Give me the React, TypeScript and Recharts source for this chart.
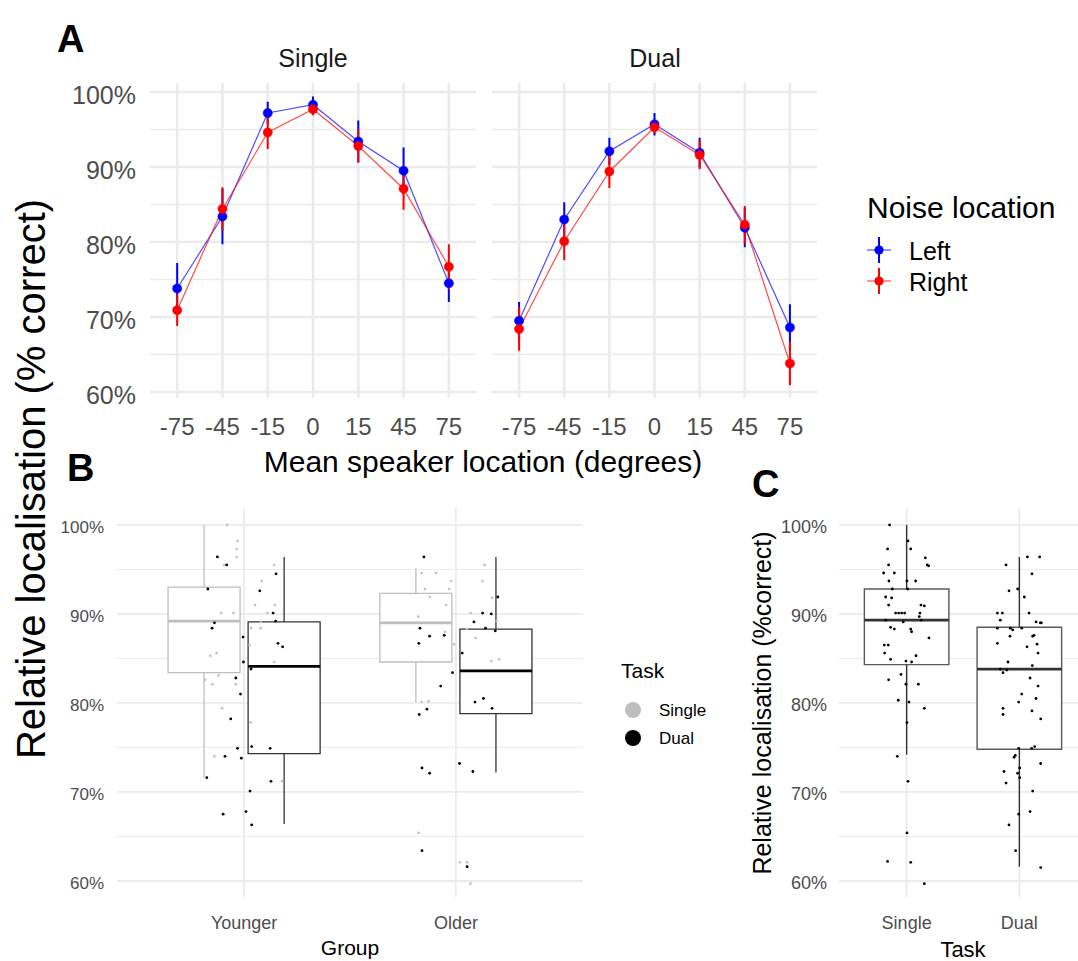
import React from 'react';
import {
  ComposedChart,
  Line,
  Scatter,
  XAxis,
  YAxis,
  CartesianGrid,
  ErrorBar,
  ReferenceArea,
  ReferenceLine,
} from 'recharts';

const FONT = '"Liberation Sans", Arial, Helvetica, sans-serif';
const GRID = '#EBEBEB';
const TICK = '#4D4D4D';

// ---------- Panel A: localisation by mean speaker location ----------
const speakerLocations = ['-75', '-45', '-15', '0', '15', '45', '75'];
const speakerIdx = [0, 1, 2, 3, 4, 5, 6];

const singleLeft = [73.8, 83.4, 97.2, 98.3, 93.4, 89.5, 74.5];
const singleLeftErr = [3.4, 3.7, 1.5, 1.1, 2.8, 3.1, 2.5];
const singleRight = [70.9, 84.4, 94.6, 97.7, 92.8, 87.1, 76.7];
const singleRightErr = [2.1, 2.9, 2.2, 0.8, 2.2, 2.8, 3.0];

const dualLeft = [69.5, 83.0, 92.1, 95.7, 91.9, 81.9, 68.6];
const dualLeftErr = [2.5, 2.3, 1.8, 1.5, 2.0, 2.6, 3.1];
const dualRight = [68.4, 80.1, 89.4, 95.3, 91.6, 82.3, 63.8];
const dualRightErr = [2.9, 2.5, 2.2, 0.9, 1.9, 2.5, 2.9];

const noiseSeries = [
  { key: 'left', name: 'Left', color: '#0000FF' },
  { key: 'right', name: 'Right', color: '#FF0000' },
];

const majorPct = [60, 70, 80, 90, 100];
const minorPct = [65, 75, 85, 95];

// ---------- Panel B: group x task ----------
const groups = ['Younger', 'Older'];
const taskNames = ['Single', 'Dual'];
const taskColors = ['#BEBEBE', '#000000'];

// lower whisker, Q1, median, Q3, upper whisker
const youngerSingleBox = [71.6, 83.4, 89.2, 93.0, 100.0];
const youngerDualBox = [66.4, 74.3, 84.1, 89.1, 96.4];
const olderSingleBox = [80.1, 84.6, 89.0, 92.3, 95.1];
const olderDualBox = [72.2, 78.8, 83.6, 88.3, 96.4];

// [jitter, value]
const youngerSinglePts: [number, number][] = [
  [-0.080, 100.0], [-0.031, 98.2], [-0.035, 97.3], [-0.035, 96.4], [-0.094, 95.5],
  [-0.108, 90.1], [-0.050, 90.1], [-0.159, 85.3], [-0.130, 85.6], [-0.121, 83.1],
  [-0.149, 82.1], [-0.184, 82.6], [-0.039, 82.1], [-0.104, 79.4], [-0.140, 74.0],
  [0.031, 77.8], [0.083, 93.7], [0.052, 91.0], [0.142, 95.5], [0.145, 91.0],
  [0.110, 90.1], [0.079, 89.1], [0.033, 88.4], [0.078, 88.4], [0.025, 86.5],
  [0.142, 84.6], [0.179, 71.2],
];
const youngerDualPts: [number, number][] = [
  [-0.126, 96.4], [-0.082, 95.5], [-0.171, 92.8], [-0.140, 89.0], [-0.151, 88.4],
  [-0.005, 87.4], [-0.003, 84.6], [0.033, 83.8], [-0.039, 82.8], [-0.017, 81.0],
  [-0.063, 78.2], [-0.031, 74.9], [-0.090, 74.0], [-0.013, 73.8], [-0.176, 71.6],
  [-0.099, 67.5], [0.009, 67.8], [0.036, 66.3], [0.028, 70.1], [0.127, 71.2],
  [0.036, 75.1], [0.123, 74.9], [0.160, 86.7], [0.182, 86.3], [0.149, 89.2],
  [0.137, 90.1], [0.074, 92.6], [0.151, 94.5],
];
const olderSinglePts: [number, number][] = [
  [-0.162, 94.6], [-0.093, 94.6], [-0.022, 93.7], [-0.146, 92.8], [-0.123, 91.9],
  [-0.031, 92.8], [-0.046, 91.0], [-0.178, 89.7], [-0.041, 89.0], [-0.052, 88.0],
  [-0.009, 86.6], [-0.162, 80.1], [-0.129, 80.2], [-0.176, 65.4], [0.019, 62.1],
  [0.053, 62.1], [0.069, 59.7], [0.135, 95.5], [0.126, 93.7], [0.171, 91.8],
  [0.069, 90.1], [0.192, 89.2], [0.052, 88.3], [0.093, 87.3], [0.167, 84.7],
  [0.204, 84.9],
];
const olderDualPts: [number, number][] = [
  [-0.151, 96.4], [-0.170, 88.4], [-0.124, 87.5], [-0.175, 86.7], [-0.055, 87.6],
  [-0.016, 83.4], [-0.072, 81.9], [-0.137, 79.3], [-0.173, 78.7], [-0.160, 72.7],
  [-0.124, 72.1], [-0.160, 63.4], [0.030, 85.6], [0.085, 89.1], [0.126, 90.1],
  [0.167, 90.0], [0.198, 91.9], [0.140, 88.4], [0.186, 88.1], [0.090, 80.1],
  [0.130, 80.5], [0.171, 79.4], [0.017, 73.2], [0.080, 72.3], [0.053, 61.6],
];

// ---------- Panel C: task only ----------
const singleTaskBox = [74.2, 84.3, 89.3, 92.8, 100.0];
const dualTaskBox = [61.6, 74.8, 83.8, 88.5, 96.4];

const singleTaskPts: [number, number][] = [
  [-0.151, 100.0], [0.012, 98.2], [0.036, 97.3], [-0.169, 97.3], [0.166, 96.3],
  [-0.160, 95.5], [0.183, 95.5], [0.195, 95.4], [-0.204, 94.6], [-0.109, 94.6],
  [-0.157, 93.7], [0.003, 93.7], [0.080, 93.7], [-0.127, 92.8], [0.009, 92.8],
  [-0.186, 91.9], [-0.133, 91.8], [-0.160, 91.0], [0.127, 91.0], [0.157, 90.9],
  [-0.098, 90.1], [-0.071, 90.1], [-0.044, 90.1], [-0.018, 90.1], [0.118, 90.1],
  [0.112, 89.7], [-0.186, 89.3], [-0.030, 89.1], [0.130, 89.3], [-0.142, 88.5],
  [-0.109, 88.3], [0.036, 88.3], [0.044, 88.0], [0.198, 87.3], [-0.198, 86.5],
  [-0.163, 86.5], [-0.195, 85.6], [0.083, 85.3], [-0.142, 84.9], [-0.006, 84.7],
  [0.044, 84.6], [-0.160, 82.6], [-0.050, 83.2], [-0.006, 82.1], [0.104, 82.1],
  [-0.074, 80.3], [0.021, 80.1], [0.157, 79.4], [0.003, 77.8], [-0.083, 74.0],
  [0.012, 71.2], [0.003, 65.4], [-0.169, 62.2], [0.036, 62.1], [0.157, 59.7],
];
const dualTaskPts: [number, number][] = [
  [-0.118, 95.5], [0.071, 96.4], [0.180, 96.4], [0.112, 94.5], [-0.092, 92.6],
  [-0.015, 92.8], [0.044, 91.9], [-0.195, 90.1], [-0.151, 90.1], [0.086, 90.1],
  [-0.169, 89.3], [0.148, 89.1], [0.186, 89.0], [0.195, 89.0], [-0.195, 88.4],
  [-0.080, 88.4], [-0.059, 88.2], [0.021, 88.4], [-0.083, 87.5], [0.118, 87.5],
  [0.130, 87.6], [-0.195, 86.7], [0.068, 86.3], [0.157, 86.6], [0.166, 85.6],
  [-0.101, 84.6], [0.115, 84.2], [-0.169, 83.8], [-0.112, 83.7], [-0.145, 83.4],
  [0.095, 82.8], [0.166, 81.9], [0.021, 81.0], [-0.006, 80.1], [0.148, 80.5],
  [-0.145, 79.4], [0.112, 79.1], [-0.145, 78.7], [0.189, 78.2], [-0.006, 74.9],
  [0.109, 74.9], [0.136, 75.1], [-0.036, 74.1], [-0.047, 73.9], [0.189, 73.2],
  [0.003, 72.7], [-0.136, 72.3], [-0.015, 72.1], [0.003, 71.6], [-0.118, 71.0],
  [0.118, 70.1], [0.095, 67.8], [-0.006, 67.5], [-0.092, 66.3], [-0.033, 63.4],
  [0.189, 61.5],
];

// ---------- helpers ----------
function facetRows(left: number[], leftErr: number[], right: number[], rightErr: number[]) {
  return speakerIdx.map((i) => ({
    idx: i,
    left: left[i],
    leftErr: leftErr[i],
    right: right[i],
    rightErr: rightErr[i],
  }));
}

function jitterRows(groupIndex: number, pts: [number, number][]) {
  return pts.map(([j, v]) => ({ x: groupIndex + j, y: v }));
}

const pctLabel = (v: number) => `${v}%`;

type BoxStyle = { box: string; whisker: string; median: string; width: number };

function boxElements(id: string, pos: number, half: number, s: number[], st: BoxStyle) {
  const [lo, q1, med, q3, hi] = s;
  return [
    <ReferenceLine
      key={`${id}-wu`}
      segment={[{ x: pos, y: q3 }, { x: pos, y: hi }]}
      stroke={st.whisker}
      strokeWidth={st.width}
      ifOverflow="visible"
    />,
    <ReferenceLine
      key={`${id}-wl`}
      segment={[{ x: pos, y: lo }, { x: pos, y: q1 }]}
      stroke={st.whisker}
      strokeWidth={st.width}
      ifOverflow="visible"
    />,
    <ReferenceArea
      key={`${id}-box`}
      x1={pos - half}
      x2={pos + half}
      y1={q1}
      y2={q3}
      fill="#FFFFFF"
      fillOpacity={1}
      stroke={st.box}
      strokeWidth={st.width}
      ifOverflow="visible"
    />,
    <ReferenceLine
      key={`${id}-med`}
      segment={[{ x: pos - half, y: med }, { x: pos + half, y: med }]}
      stroke={st.median}
      strokeWidth={2.8}
      ifOverflow="visible"
    />,
  ];
}

const dotShape = (color: string, r: number) => (p: any) =>
  <circle cx={p.cx} cy={p.cy} r={r} fill={color} />;

// ---------- Panel A facet ----------
function Facet({ rows, showY, left, width }: { rows: any[]; showY: boolean; left: number; width: number }) {
  return (
    <div style={{ position: 'absolute', left, top: 0 }}>
      <ComposedChart
        width={width}
        height={450}
        data={rows}
        margin={{ top: 83, right: 4, left: showY ? 0 : 4, bottom: 0 }}
      >
        <CartesianGrid stroke={GRID} strokeWidth={1.3} vertical={false} horizontalValues={minorPct} />
        <CartesianGrid stroke={GRID} strokeWidth={2.6} horizontalValues={majorPct} verticalValues={speakerIdx} />
        <XAxis
          type="number"
          dataKey="idx"
          domain={[-0.6, 6.6]}
          ticks={speakerIdx}
          interval={0}
          allowDataOverflow
          tickFormatter={(v: number) => speakerLocations[v]}
          axisLine={false}
          tickLine={false}
          height={52}
          tickMargin={14}
          tick={{ fill: TICK, fontSize: 24, fontFamily: FONT }}
        />
        <YAxis
          type="number"
          domain={[59.2, 101.2]}
          ticks={majorPct}
          interval={0}
          allowDataOverflow
          hide={!showY}
          width={150}
          tickFormatter={pctLabel}
          axisLine={false}
          tickLine={false}
          tickMargin={8}
          tick={{ fill: TICK, fontSize: 25, fontFamily: FONT, dy: 3 }}
        />
        {noiseSeries.map((s) => (
          <Line
            key={s.key}
            dataKey={s.key}
            type="linear"
            stroke={s.color}
            strokeWidth={1.2}
            strokeOpacity={0.7}
            dot={{ r: 4.6, fill: s.color, stroke: s.color, strokeWidth: 0.5, strokeOpacity: 1 }}
            activeDot={false}
            isAnimationActive={false}
          >
            <ErrorBar dataKey={`${s.key}Err`} direction="y" width={0} stroke={s.color} strokeWidth={2} />
          </Line>
        ))}
      </ComposedChart>
    </div>
  );
}

// ---------- Panel B ----------
function GroupPanel() {
  const half = 0.17;
  const dodge = 0.189;
  const singleStyle: BoxStyle = { box: '#BEBEBE', whisker: '#BEBEBE', median: '#BEBEBE', width: 1.3 };
  const dualStyle: BoxStyle = { box: '#333333', whisker: '#333333', median: '#000000', width: 1.3 };
  return (
    <div style={{ position: 'absolute', left: 0, top: 490 }}>
      <ComposedChart width={590} height={470} margin={{ top: 18, right: 7, left: 0, bottom: 0 }}>
        <CartesianGrid stroke={GRID} strokeWidth={1} vertical={false} horizontalValues={minorPct} />
        <CartesianGrid stroke={GRID} strokeWidth={1.8} horizontalValues={majorPct} verticalValues={[0, 1]} />
        <XAxis
          type="number"
          dataKey="x"
          domain={[-0.6, 1.6]}
          ticks={[0, 1]}
          interval={0}
          allowDataOverflow
          tickFormatter={(v: number) => groups[v]}
          axisLine={false}
          tickLine={false}
          height={63}
          tickMargin={13}
          tick={{ fill: TICK, fontSize: 18, fontFamily: FONT }}
        />
        <YAxis
          type="number"
          dataKey="y"
          domain={[58.2, 101.9]}
          ticks={majorPct}
          interval={0}
          allowDataOverflow
          width={117}
          tickFormatter={pctLabel}
          axisLine={false}
          tickLine={false}
          tickMargin={7}
          tick={{ fill: TICK, fontSize: 17, fontFamily: FONT, dy: 2 }}
        />
        {boxElements('ys', 0 - dodge, half, youngerSingleBox, singleStyle)}
        {boxElements('yd', 0 + dodge, half, youngerDualBox, dualStyle)}
        {boxElements('os', 1 - dodge, half, olderSingleBox, singleStyle)}
        {boxElements('od', 1 + dodge, half, olderDualBox, dualStyle)}
        <Scatter data={jitterRows(0, youngerSinglePts)} shape={dotShape(taskColors[0], 1.3)} isAnimationActive={false} />
        <Scatter data={jitterRows(1, olderSinglePts)} shape={dotShape(taskColors[0], 1.3)} isAnimationActive={false} />
        <Scatter data={jitterRows(0, youngerDualPts)} shape={dotShape(taskColors[1], 1.4)} isAnimationActive={false} />
        <Scatter data={jitterRows(1, olderDualPts)} shape={dotShape(taskColors[1], 1.4)} isAnimationActive={false} />
      </ComposedChart>
    </div>
  );
}

// ---------- Panel C ----------
function TaskPanel() {
  const half = 0.375;
  const style: BoxStyle = { box: '#595959', whisker: '#333333', median: '#333333', width: 1.4 };
  return (
    <div style={{ position: 'absolute', left: 700, top: 490 }}>
      <ComposedChart width={387} height={470} margin={{ top: 18, right: 0, left: 0, bottom: 0 }}>
        <CartesianGrid stroke={GRID} strokeWidth={1} vertical={false} horizontalValues={minorPct} />
        <CartesianGrid stroke={GRID} strokeWidth={1.8} horizontalValues={majorPct} verticalValues={[0, 1]} />
        <XAxis
          type="number"
          dataKey="x"
          domain={[-0.6, 1.6]}
          ticks={[0, 1]}
          interval={0}
          allowDataOverflow
          tickFormatter={(v: number) => taskNames[v]}
          axisLine={false}
          tickLine={false}
          height={63}
          tickMargin={13}
          tick={{ fill: TICK, fontSize: 18, fontFamily: FONT }}
        />
        <YAxis
          type="number"
          dataKey="y"
          domain={[58.2, 101.9]}
          ticks={majorPct}
          interval={0}
          allowDataOverflow
          width={139}
          tickFormatter={pctLabel}
          axisLine={false}
          tickLine={false}
          tickMargin={6}
          tick={{ fill: TICK, fontSize: 18, fontFamily: FONT, dy: 2 }}
        />
        {boxElements('cs', 0, half, singleTaskBox, style)}
        {boxElements('cd', 1, half, dualTaskBox, style)}
        <Scatter data={jitterRows(0, singleTaskPts)} shape={dotShape('#000000', 1.4)} isAnimationActive={false} />
        <Scatter data={jitterRows(1, dualTaskPts)} shape={dotShape('#000000', 1.4)} isAnimationActive={false} />
      </ComposedChart>
    </div>
  );
}

// ---------- titles, axis titles and legends ----------
function Annotations() {
  return (
    <svg
      width={1078}
      height={961}
      style={{ position: 'absolute', left: 0, top: 0, pointerEvents: 'none' }}
      fontFamily={FONT}
    >
      <text x={57} y={52} fontSize={38} fontWeight="bold" fill="#000">A</text>
      <text x={67} y={481} fontSize={38} fontWeight="bold" fill="#000">B</text>
      <text x={752} y={497} fontSize={38} fontWeight="bold" fill="#000">C</text>

      <text x={313} y={67} fontSize={25} textAnchor="middle" fill="#1A1A1A">{taskNames[0]}</text>
      <text x={655} y={67} fontSize={25} textAnchor="middle" fill="#1A1A1A">{taskNames[1]}</text>

      <text x={483} y={472} fontSize={30} textAnchor="middle" fill="#000">Mean speaker location (degrees)</text>
      <text transform="translate(45,479) rotate(-90)" fontSize={40} textAnchor="middle" fill="#000">
        Relative localisation (% correct)
      </text>

      <text x={867} y={218} fontSize={30} fill="#000">Noise location</text>
      {noiseSeries.map((s, i) => {
        const cy = 250 + i * 31;
        return (
          <g key={s.key}>
            <line x1={867} x2={891} y1={cy} y2={cy} stroke={s.color} strokeWidth={1.2} strokeOpacity={0.7} />
            <line x1={879} x2={879} y1={cy - 13} y2={cy + 13} stroke={s.color} strokeWidth={2} />
            <circle cx={879} cy={cy} r={4.6} fill={s.color} />
            <text x={909} y={cy + 10} fontSize={25} fill="#000">{s.name}</text>
          </g>
        );
      })}

      <text x={350} y={955} fontSize={21} textAnchor="middle" fill="#000">Group</text>
      <text x={621} y={678} fontSize={21} fill="#000">Task</text>
      {taskNames.map((t, i) => (
        <g key={t}>
          <circle cx={633} cy={710 + i * 28} r={8} fill={taskColors[i]} />
          <text x={659} y={716 + i * 28} fontSize={17} fill="#000">{t}</text>
        </g>
      ))}

      <text x={963} y={957} fontSize={22} textAnchor="middle" fill="#000">Task</text>
      <text transform="translate(771,703) rotate(-90)" fontSize={25} textAnchor="middle" fill="#000">
        Relative localisation (%correct)
      </text>
    </svg>
  );
}

export default function App() {
  return (
    <div
      style={{
        position: 'absolute',
        left: 0,
        top: 0,
        width: 1078,
        height: 961,
        overflow: 'hidden',
        background: '#FFFFFF',
        fontFamily: FONT,
      }}
    >
      <Facet rows={facetRows(singleLeft, singleLeftErr, singleRight, singleRightErr)} showY left={0} width={480} />
      <Facet rows={facetRows(dualLeft, dualLeftErr, dualRight, dualRightErr)} showY={false} left={488} width={333} />
      <GroupPanel />
      <TaskPanel />
      <Annotations />
    </div>
  );
}
